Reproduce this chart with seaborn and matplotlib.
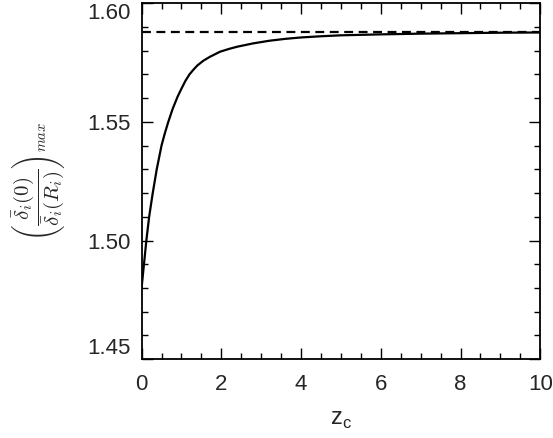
import numpy as np
import pandas as pd
import matplotlib
matplotlib.use("Agg")
import matplotlib.pyplot as plt
from matplotlib.ticker import MultipleLocator, FormatStrFormatter
import seaborn as sns

# valores
z_c = [0.0, 0.06, 0.12, 0.19, 0.28, 0.38, 0.50, 0.58, 0.67, 0.78, 0.90, 1.0,
       1.1, 1.2, 1.3, 1.4, 1.55, 1.72, 1.97, 2.2, 2.4, 2.8, 3.2, 3.6, 4.0,
       4.5, 5.0, 6.0, 7.0, 8.0, 9.0, 10.0]
razao_max = [1.480, 1.490, 1.500, 1.510, 1.520, 1.530, 1.540, 1.545, 1.550,
             1.5555, 1.5605, 1.5640, 1.5673, 1.5700, 1.5720, 1.5738, 1.5758,
             1.5775, 1.5796, 1.5808, 1.5817, 1.5831, 1.5842, 1.5850, 1.5856,
             1.5861, 1.5865, 1.5869, 1.5872, 1.5874, 1.5876, 1.5877]
assintota = 1.5877

df = pd.DataFrame({"z_c": z_c, "razao": razao_max})

sns.set_style("ticks")
plt.rcParams["font.family"] = ["Liberation Sans", "DejaVu Sans"]
plt.rcParams["mathtext.fontset"] = "cm"

fig = plt.figure(figsize=(5.53, 4.38), dpi=100)
ax = fig.add_axes([0.256, 0.180, 0.721, 0.8125])

sns.lineplot(data=df, x="z_c", y="razao", ax=ax, color="black", linewidth=1.6)
ax.axhline(assintota, color="black", linestyle=(0, (4, 2.5)), linewidth=1.6)

ax.set_xlim(0, 10)
ax.set_ylim(1.45, 1.60)
ax.xaxis.set_major_locator(MultipleLocator(2))
ax.xaxis.set_minor_locator(MultipleLocator(0.5))
ax.yaxis.set_major_locator(MultipleLocator(0.05))
ax.yaxis.set_minor_locator(MultipleLocator(0.01))
ax.yaxis.set_major_formatter(FormatStrFormatter("%.2f"))

ax.tick_params(which="both", direction="in", top=True, right=True, color="black")
ax.tick_params(which="major", length=8, width=1, labelsize=16)
ax.tick_params(axis="x", which="major", pad=11)
ax.tick_params(axis="y", which="major", pad=8)
ax.tick_params(which="minor", length=4.5, width=1)
for s in ax.spines.values():
    s.set_linewidth(1.3)
    s.set_color("black")

ax.set_xlabel(r"z$_\mathregular{c}$", fontsize=17, labelpad=10)
ax.set_ylabel(r"$\left(\dfrac{\bar{\delta}_i(0)}{\bar{\delta}_i(R_i)}\right)_{max}$",
              fontsize=15, labelpad=14)

# rótulos extremos do eixo y ficam dentro da figura
fig.canvas.draw()
for tick in ax.yaxis.get_major_ticks():
    lab = tick.label1.get_text()
    if lab == "1.60":
        tick.label1.set_va("top")
    elif lab == "1.45":
        tick.label1.set_va("bottom")

plt.savefig("out.png", dpi=100)
plt.close()
